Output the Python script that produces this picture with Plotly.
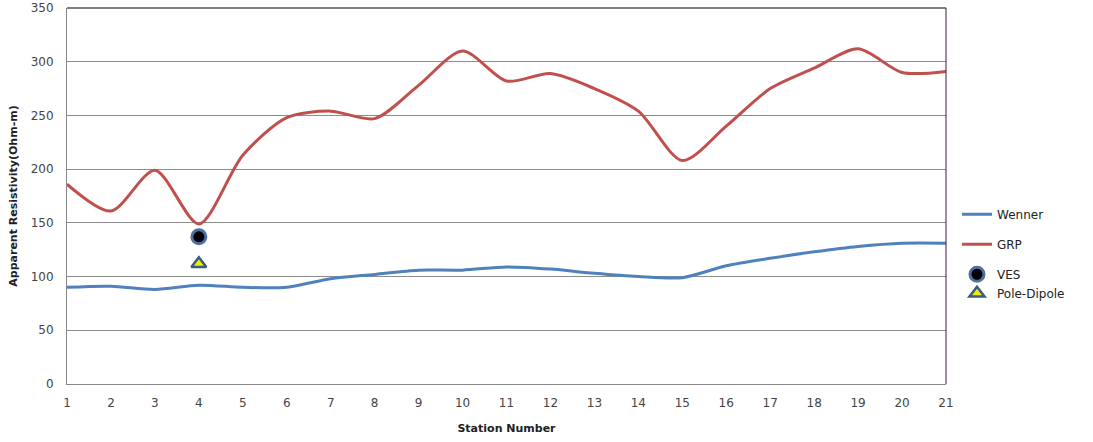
import plotly.graph_objs as go

stations = list(range(1, 22))
wenner = [90, 91, 88, 92, 90, 90, 98, 102, 106, 106, 109, 107, 103, 100, 99, 110, 117, 123, 128, 131, 131]
grp = [186, 161, 199, 149, 213, 248, 254, 247, 278, 310, 282, 289, 275, 254, 208, 240, 275, 294, 312, 290, 291]
ves_x = [4]
ves_y = [137]
pd_x = [4]
pd_y = [112]

fig = go.Figure()
fig.add_trace(go.Scatter(x=stations, y=wenner, name="Wenner", mode="lines", legendgroup="a",
                         line=dict(color="#4F81BD", width=3, shape="spline", smoothing=0.8)))
fig.add_trace(go.Scatter(x=stations, y=grp, name="GRP", mode="lines", legendgroup="b",
                         line=dict(color="#C0504D", width=3, shape="spline", smoothing=0.8)))
fig.add_trace(go.Scatter(x=ves_x, y=ves_y, name="VES", mode="markers", legendgroup="c",
                         marker=dict(symbol="circle", size=14, color="black",
                                     line=dict(color="#4F6FA0", width=3))))
fig.add_trace(go.Scatter(x=pd_x, y=pd_y, name="Pole-Dipole", mode="markers", legendgroup="c",
                         marker=dict(symbol="triangle-up", size=13, color="#E8F000",
                                     line=dict(color="#3D5A80", width=2.5))))

fig.update_layout(
    width=1093, height=442,
    margin=dict(l=67, r=147, t=8, b=58),
    plot_bgcolor="white", paper_bgcolor="white",
    font=dict(family="DejaVu Sans", size=11, color="#333"),
    showlegend=True,
    legend=dict(x=1.0125, y=0.49, xanchor="left", yanchor="top", bgcolor="rgba(0,0,0,0)",
                font=dict(size=12, color="#222"), tracegroupgap=11,
                itemwidth=30),
    shapes=[
        dict(type="line", xref="paper", yref="paper", x0=0, x1=1, y0=1, y1=1,
             line=dict(color="black", width=1)),
        dict(type="line", xref="paper", yref="paper", x0=1, x1=1, y0=0, y1=1,
             line=dict(color="#3a1a4a", width=1)),
    ],
)
fig.update_xaxes(range=[1, 21], tickvals=stations, showgrid=False, zeroline=False, automargin=False,
                 showline=True, linecolor="#888", ticks="", tickfont=dict(size=12, color="#444"),
                 ticklabelstandoff=8,
                 title=dict(text="<b>Station Number</b>", font=dict(size=11, color="#222"), standoff=14))
fig.update_yaxes(range=[0, 350], dtick=50, showgrid=True, gridcolor="#8c8c8c", zeroline=False, automargin=False,
                 showline=True, linecolor="#888", ticks="", tickfont=dict(size=12, color="#444"),
                 ticklabelstandoff=10,
                 title=dict(text="<b>Apparent Resistivity(Ohm-m)</b>", font=dict(size=11, color="#222"), standoff=10))

# drop the browser's default 8px body margin so the figure sits at the page corner
fig.write_html("out.html", config={"displayModeBar": False},
               post_script="document.body.style.margin='0';")
